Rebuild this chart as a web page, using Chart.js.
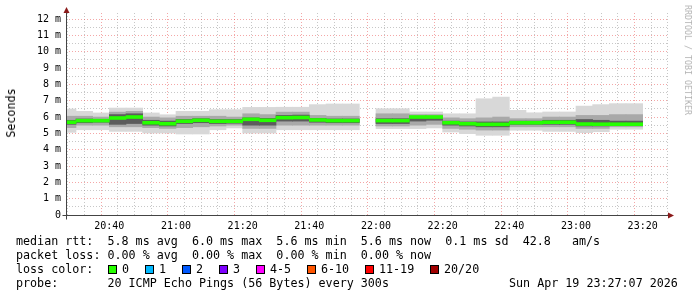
<!DOCTYPE html>
<html>
<head>
<meta charset="utf-8">
<script src="https://cdn.jsdelivr.net/npm/chart.js@4/dist/chart.umd.min.js"></script>
<style>
    body { margin: 0; background: #fff; }
    #wrap { position: relative; width: 697px; height: 297px; overflow: hidden; font-family: "DejaVu Sans Mono", monospace; color: #000; }
    #chart { position: absolute; left: 0; top: 0; }
    .line { position: absolute; left: 16px; font-size: 11.7px; line-height: 14px; white-space: pre; }
    .box { position: absolute; width: 7px; height: 7px; border: 1px solid #000; }
    .lbl { position: absolute; font-size: 11.7px; line-height: 14px; white-space: pre; }
    #ytitle { position: absolute; left: 11px; top: 113px; font-size: 11.7px; transform: translate(-50%, -50%) rotate(-90deg); white-space: pre; }
    #credit { position: absolute; left: 688px; top: 60px; font-size: 8.3px; color: #b4b4b4; transform: translate(-50%, -50%) rotate(90deg); white-space: pre; }
</style>
</head>
<body>
<div id="wrap">
    <canvas id="chart" width="697" height="297"></canvas>
    <div id="ytitle">Seconds</div>
    <div id="credit">RRDTOOL / TOBI OETIKER</div>
    <div class="line" style="top:234px">median rtt:  5.8 ms avg  6.0 ms max  5.6 ms min  5.6 ms now  0.1 ms sd  42.8   am/s</div>
    <div class="line" style="top:248px">packet loss: 0.00 % avg  0.00 % max  0.00 % min  0.00 % now</div>
    <div class="line" style="top:262px">loss color:</div>
    <div id="losscolors"></div>
    <div class="line" style="top:276px">probe:       20 ICMP Echo Pings (56 Bytes) every 300s</div>
    <div class="line" style="top:276px; left:509px">Sun Apr 19 23:27:07 2026</div>
</div>
<script>
// 5 minute steps, start of each step
const binStart = ['20:25', '20:30', '20:35', '20:40', '20:45', '20:50', '20:55', '21:00', '21:05', '21:10',
    '21:15', '21:20', '21:25', '21:30', '21:35', '21:40', '21:45', '21:50', '21:55', '22:00',
    '22:05', '22:10', '22:15', '22:20', '22:25', '22:30', '22:35', '22:40', '22:45', '22:50',
    '22:55', '23:00', '23:05', '23:10', '23:15'];

// rtt in ms, null = no data
const median = [5.68, 5.78, 5.78, 5.94, 6.00, 5.65, 5.59, 5.74, 5.80, 5.74, 5.74, 5.86, 5.80, 5.96, 5.97, 5.82, 5.78, 5.78, null, 5.78,
    5.78, 6.00, 6.00, 5.65, 5.59, 5.55, 5.55, 5.65, 5.65, 5.68, 5.68, 5.57, 5.56, 5.56, 5.56];
const pingMin = [5.06, 5.22, 5.22, 5.12, 5.12, 5.02, 5.02, 4.96, 4.96, 5.22, 5.33, 5.02, 5.02, 5.22, 5.22, 5.22, 5.22, 5.22, null, 5.29,
    5.29, 5.29, 5.33, 5.08, 4.98, 4.88, 4.88, 5.19, 5.19, 5.12, 5.12, 5.04, 5.10, 5.25, 5.25];
const pingMax = [6.49, 6.35, 6.25, 6.55, 6.55, 6.25, 6.14, 6.35, 6.35, 6.45, 6.45, 6.59, 6.59, 6.60, 6.60, 6.76, 6.80, 6.80, null, 6.51,
    6.51, 6.31, 6.31, 6.20, 6.20, 7.12, 7.22, 6.41, 6.26, 6.31, 6.31, 6.67, 6.76, 6.82, 6.82];
const ping20 = [5.35, 5.50, 5.50, 5.40, 5.40, 5.35, 5.30, 5.35, 5.40, 5.45, 5.50, 5.30, 5.30, 5.50, 5.50, 5.50, 5.50, 5.50, null, 5.45,
    5.45, 5.50, 5.55, 5.30, 5.25, 5.20, 5.20, 5.40, 5.40, 5.40, 5.40, 5.30, 5.30, 5.40, 5.40];
const ping80 = [6.05, 6.05, 6.00, 6.30, 6.35, 6.00, 5.95, 6.05, 6.05, 6.05, 6.00, 6.20, 6.15, 6.30, 6.30, 6.10, 6.05, 6.05, null, 6.20,
    6.20, 6.15, 6.15, 5.95, 5.90, 5.95, 6.00, 5.90, 5.90, 6.00, 6.00, 6.10, 6.10, 6.15, 6.15];
const ping40 = [5.55, 5.65, 5.68, 5.55, 5.60, 5.50, 5.45, 5.60, 5.65, 5.60, 5.62, 5.50, 5.50, 5.75, 5.75, 5.68, 5.65, 5.65, null, 5.60,
    5.60, 5.75, 5.80, 5.50, 5.45, 5.40, 5.40, 5.55, 5.55, 5.55, 5.55, 5.45, 5.45, 5.48, 5.48];
const ping60 = [5.80, 5.88, 5.86, 6.15, 6.20, 5.80, 5.75, 5.85, 5.90, 5.85, 5.85, 5.95, 5.92, 6.10, 6.12, 5.92, 5.88, 5.88, null, 5.90,
    5.90, 6.05, 6.05, 5.75, 5.70, 5.70, 5.70, 5.75, 5.75, 5.80, 5.80, 5.85, 5.80, 5.75, 5.75];

const lossLabels = ['0', '1', '2', '3', '4-5', '6-10', '11-19', '20/20'];
const lossColors = ['#26ff00', '#00b8ff', '#0059ff', '#7e00ff', '#ff00ff', '#ff5500', '#ff0000', '#a10000'];
const lossBoxX = [108, 145, 182, 219, 256, 307, 365, 430];

const toMin = (t) => (parseInt(t.slice(0, 2)) - 20) * 60 + parseInt(t.slice(3, 5));
const toTime = (m) => String(20 + Math.floor(m / 60)).padStart(2, '0') + ':' + String(m % 60).padStart(2, '0');

const band = (lo, hi) => binStart
    .map((t, i) => lo[i] == null ? null : { x: toMin(t) + 2.5, y: [lo[i], hi[i]] })
    .filter(Boolean);

const medianBand = () => binStart
    .map((t, i) => median[i] == null ? null : { x: toMin(t) + 2.5, y: [median[i] - 0.09, median[i] + 0.09] })
    .filter(Boolean);

function layer(data, color, order) {
    return {
        data: data,
        backgroundColor: color,
        borderWidth: 0,
        grouped: false,
        barPercentage: 1,
        categoryPercentage: 1,
        order: order
    };
}

lossLabels.forEach((l, i) => {
    const box = document.createElement('div');
    box.className = 'box';
    box.style.left = lossBoxX[i] + 'px';
    box.style.top = '265px';
    box.style.background = lossColors[i];
    document.getElementById('losscolors').append(box);
    const lbl = document.createElement('div');
    lbl.className = 'lbl';
    lbl.style.left = (lossBoxX[i] + 14) + 'px';
    lbl.style.top = '262px';
    lbl.textContent = l;
    document.getElementById('losscolors').append(lbl);
});

const axisArrows = {
    id: 'axisArrows',
    afterDraw(chart) {
        const { ctx, chartArea } = chart;
        const x0 = chartArea.left + 0.5, y0 = chartArea.bottom + 0.5;
        ctx.save();
        ctx.strokeStyle = '#444';
        ctx.lineWidth = 1;
        ctx.beginPath();
        ctx.moveTo(x0 - 4, y0);
        ctx.lineTo(chartArea.right + 1, y0);
        ctx.moveTo(x0, y0 + 4);
        ctx.lineTo(x0, chartArea.top - 1);
        ctx.stroke();
        ctx.fillStyle = '#8b1a1a';
        ctx.beginPath();
        ctx.moveTo(x0, chartArea.top - 6);
        ctx.lineTo(x0 - 3, chartArea.top);
        ctx.lineTo(x0 + 3, chartArea.top);
        ctx.fill();
        ctx.beginPath();
        ctx.moveTo(chartArea.right + 6, y0);
        ctx.lineTo(chartArea.right, y0 - 3);
        ctx.lineTo(chartArea.right, y0 + 3);
        ctx.fill();
        ctx.restore();
    }
};

const tickFont = { family: 'DejaVu Sans Mono', size: 10 };

new Chart(document.getElementById('chart').getContext('2d'), {
    type: 'bar',
    data: {
        datasets: [
            layer(medianBand(), lossColors[0], 0),
            layer(band(ping40, ping60), '#5c5c5c', 1),
            layer(band(ping20, ping80), '#a9a9a9', 2),
            layer(band(pingMin, pingMax), '#d8d8d8', 3)
        ]
    },
    options: {
        responsive: false,
        animation: false,
        layout: { padding: { left: 0, right: 29, top: 13, bottom: 0 } },
        plugins: {
            legend: { display: false },
            tooltip: { enabled: false }
        },
        scales: {
            x: {
                type: 'linear',
                offset: false,
                min: 27,
                max: 207.6,
                z: 1,
                afterBuildTicks: (s) => {
                    const t = [];
                    for (let m = 30; m <= 205; m += 5) t.push({ value: m });
                    s.ticks = t;
                },
                afterFit: (s) => { s.height = 82; },
                ticks: {
                    autoSkip: false,
                    maxRotation: 0,
                    padding: 5,
                    color: '#000',
                    font: tickFont,
                    callback: (v) => v % 20 === 0 ? toTime(v) : ''
                },
                grid: {
                    drawTicks: false,
                    borderDash: [1, 2],
                    color: (c) => c.tick && c.tick.value % 20 === 0 ? 'rgba(230, 60, 60, 0.45)' : 'rgba(130, 130, 130, 0.45)'
                },
                border: { display: false, dash: [1, 2] }
            },
            y: {
                min: 0,
                max: 12.37,
                z: 1,
                afterBuildTicks: (s) => {
                    const t = [];
                    for (let v = 0; v <= 12; v += 0.5) t.push({ value: v });
                    s.ticks = t;
                },
                afterFit: (s) => { s.width = 66; },
                ticks: {
                    autoSkip: false,
                    padding: 5,
                    color: '#000',
                    font: tickFont,
                    callback: (v) => v === 0 ? '0' : (Number.isInteger(v) ? v + ' m' : '')
                },
                grid: {
                    drawTicks: false,
                    color: (c) => !c.tick || c.tick.value === 0 ? 'rgba(0,0,0,0)' :
                        (Number.isInteger(c.tick.value) ? 'rgba(230, 60, 60, 0.45)' : 'rgba(130, 130, 130, 0.45)')
                },
                border: { display: false, dash: [1, 2] }
            }
        }
    },
    plugins: [axisArrows]
});
</script>
</body>
</html>
